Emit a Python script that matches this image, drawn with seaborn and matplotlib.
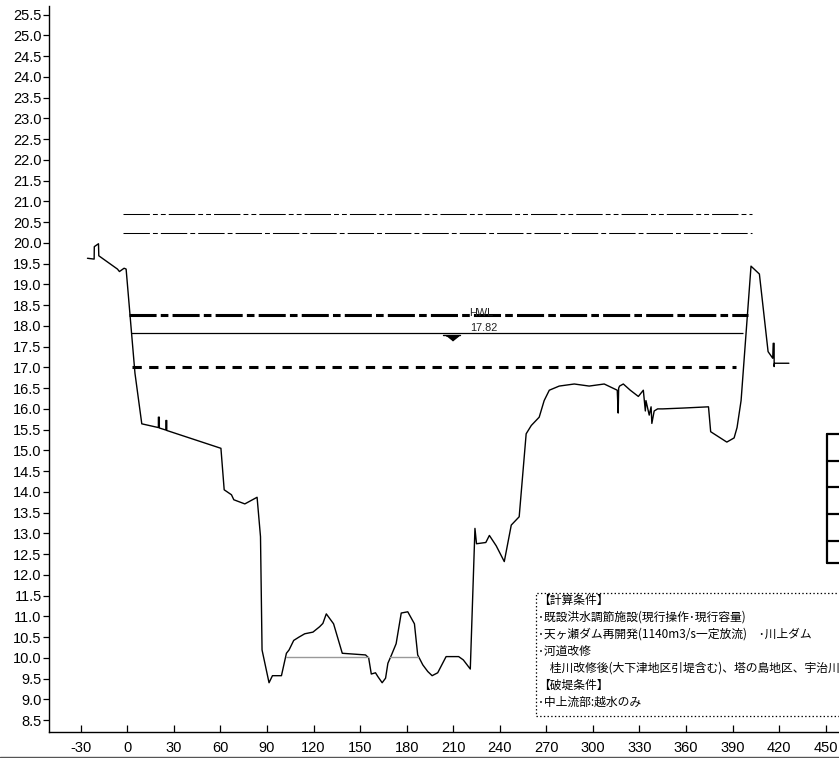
import numpy as np
import pandas as pd
import seaborn as sns
import matplotlib.pyplot as plt
from matplotlib.patches import Rectangle
from matplotlib.lines import Line2D

# ground profile: distance from left bank (m) and elevation (m)
dist = [-25.7, -21.4, -21.3, -18.6, -18.4, -6.4, -5.1, -2.1, -0.8, 4.9, 7.1, 9.3,
        20.0, 20.0, 20.6, 20.6, 24.8, 24.8, 25.4, 25.4,
        60.3, 62.4, 67.1, 68.6, 75.7, 83.6, 85.8, 86.8,
        91.3, 93.5, 99.3, 102.5, 104.2, 107.2,
        110.6, 114.3, 119.6, 123.9, 126.0, 128.2,
        132.9, 138.5, 153.5, 155.5, 157.2, 159.9,
        161.4, 164.2, 166.4, 167.9, 170.0, 173.2,
        176.5, 180.7, 185.0, 187.1, 190.4, 193.6,
        196.4, 200.0, 205.4, 213.5, 216.5, 221.0,
        224.0, 225.0, 231.0, 233.3, 237.7, 242.9, 247.4, 252.5, 257.0,
        260.3, 265.4, 268.6, 271.9, 278.3, 288.0, 297.6, 307.3, 315.7,
        316.3, 316.6, 317.2, 319.6, 324.1, 329.3, 332.5, 333.8, 334.2, 336.3, 337.5,
        338.0, 339.5, 341.7, 345.0, 358.0, 374.5, 375.9, 386.3, 391.0, 392.9, 395.5,
        401.9, 407.3, 412.9, 415.9, 416.2, 416.8, 416.8, 417.0, 426.3]
elev = [19.63, 19.61, 19.91, 19.98, 19.69, 19.37, 19.31, 19.39, 19.37, 16.86, 16.25, 15.64,
        15.55, 15.80, 15.80, 15.54, 15.49, 15.72, 15.72, 15.48,
        15.05, 14.05, 13.93, 13.81, 13.71, 13.87, 12.92, 10.19,
        9.40, 9.57, 9.57, 10.11, 10.19, 10.42,
        10.50, 10.58, 10.62, 10.75, 10.83, 11.06,
        10.82, 10.11, 10.07, 10.00, 9.61, 9.64,
        9.55, 9.40, 9.51, 9.87, 10.05, 10.34,
        11.08, 11.11, 10.82, 10.07, 9.83, 9.67,
        9.57, 9.64, 10.03, 10.03, 9.95, 9.73,
        13.12, 12.75, 12.78, 12.95, 12.70, 12.32, 13.20, 13.40, 15.40,
        15.60, 15.80, 16.20, 16.45, 16.55, 16.60, 16.55, 16.60, 16.45,
        15.90, 16.50, 16.55, 16.60, 16.45, 16.30, 16.45, 15.95, 16.20, 15.85, 16.05,
        15.65, 15.95, 16.00, 16.00, 16.02, 16.05, 15.45, 15.20, 15.30, 15.55, 16.20,
        19.44, 19.25, 17.38, 17.22, 17.58, 17.58, 17.02, 17.10, 17.10]

# horizontal water level lines
levels = [20.70, 20.23, 18.26, 17.82, 17.00]
starts = [-2.6, -2.6, 1.1, 2.4, 3.0]
ends = [402.4, 402.4, 400.0, 397.0, 392.5]

# ponded water in the low channel
pond_start = [102.5, 169.5]
pond_end = [155.0, 187.3]
pond_level = 10.03

hwl_value = 17.82
marker_x = 209.1

xticks = list(range(-30, 451, 30))
yticks = [8.5 + 0.5 * i for i in range(35)]

notes = ['【計算条件】',
         '･既設洪水調節施設(現行操作･現行容量)',
         '･天ヶ瀬ダム再開発(1140m3/s一定放流)　･川上ダム',
         '･河道改修',
         '　桂川改修後(大下津地区引堤含む)、塔の島地区、宇治川',
         '【破堤条件】',
         '･中上流部:越水のみ']

sns.set_theme(style='ticks')
plt.rcParams['font.family'] = ['Liberation Sans', 'DejaVu Sans']
plt.rcParams['axes.unicode_minus'] = False
plt.rcParams['lines.scale_dashes'] = False

W, H = 839, 758
fig = plt.figure(figsize=(W / 100, H / 100), dpi=100)
ax = fig.add_axes([49.3 / W, 26.3 / H, 1 - 49.3 / W, (731.7 - 6) / H])

df = pd.DataFrame({'dist': dist, 'elev': elev})
sns.lineplot(data=df, x='dist', y='elev', sort=False, estimator=None,
             color='black', lw=1.0, ax=ax)

for s, e in zip(pond_start, pond_end):
    ax.plot([s, e], [pond_level, pond_level], color='#999999', lw=1.0)

styles = [dict(lw=0.75, dashes=(19, 2.2, 3.5, 2.2, 3.5, 2.2)),
          dict(lw=0.75, dashes=(19, 2.2, 3.5, 2.2)),
          dict(lw=2.2, dashes=(19.5, 3, 5.5, 3)),
          dict(lw=0.9, ls='-'),
          dict(lw=2.2, dashes=(6.7, 5.3))]
for lv, s, e, st in zip(levels, starts, ends, styles):
    ax.plot([s, e], [lv, lv], color='black', solid_capstyle='butt',
            dash_capstyle='butt', **st)

ax.text(227.9, 18.30, 'HWL', fontsize=7.8, color='#222222', ha='center', va='center')
ax.text(229.5, 17.94, f'{hwl_value:.2f}', fontsize=7.8, color='#222222',
        ha='center', va='center')
ax.plot([marker_x - 5.5, marker_x + 5.5], [hwl_value - 0.04] * 2, color='black', lw=1.0)
ax.plot([marker_x], [hwl_value - 0.10], marker=[(-1, 0.4), (1, 0.4), (0, -0.4)],
        markersize=9, color='black')

ax.set_xlim(-50.3, 458.6)
ax.set_ylim(8.22, 25.71)
ax.set_xticks(xticks)
ax.set_xticklabels([str(v) for v in xticks])
ax.set_yticks(yticks)
ax.set_yticklabels([f'{v:.1f}' for v in yticks])
ax.set_xlabel('')
ax.set_ylabel('')
ax.tick_params(axis='x', direction='in', length=5, width=0.9, labelsize=10.5,
               pad=6.5, colors='black')
ax.tick_params(axis='y', direction='out', length=4, width=0.9, labelsize=10.5,
               pad=1.5, colors='black')
sns.despine(ax=ax)
for sp in ['left', 'bottom']:
    ax.spines[sp].set_linewidth(1.0)
    ax.spines[sp].set_color('black')


def fx(px):
    return px / W


def fy(py):
    return 1 - py / H


# table on the right, cut by the edge
rows = [434, 461, 487.3, 514, 540.7, 563]
fig.add_artist(Line2D([fx(827), fx(827)], [fy(rows[0]), fy(rows[-1])],
                      color='black', lw=1.6, transform=fig.transFigure))
for r in rows:
    fig.add_artist(Line2D([fx(827), fx(900)], [fy(r), fy(r)],
                          color='black', lw=1.6, transform=fig.transFigure))

# notes box
fig.add_artist(Rectangle((fx(535.5), fy(716)), fx(1100) - fx(535.5), fy(593) - fy(716),
                         fill=False, ls=':', lw=0.9, ec='black',
                         transform=fig.transFigure))
for i, line in enumerate(notes):
    fig.text(fx(538), fy(600 + 17 * i), line, fontsize=8.5, va='center', ha='left',
             family=['Noto Sans CJK JP', 'DejaVu Sans'], color='black')

# frame line at the bottom edge
fig.add_artist(Line2D([0, 1], [fy(757), fy(757)], color='#555555', lw=1.0,
                      transform=fig.transFigure))

fig.savefig('out.png', dpi=100)
